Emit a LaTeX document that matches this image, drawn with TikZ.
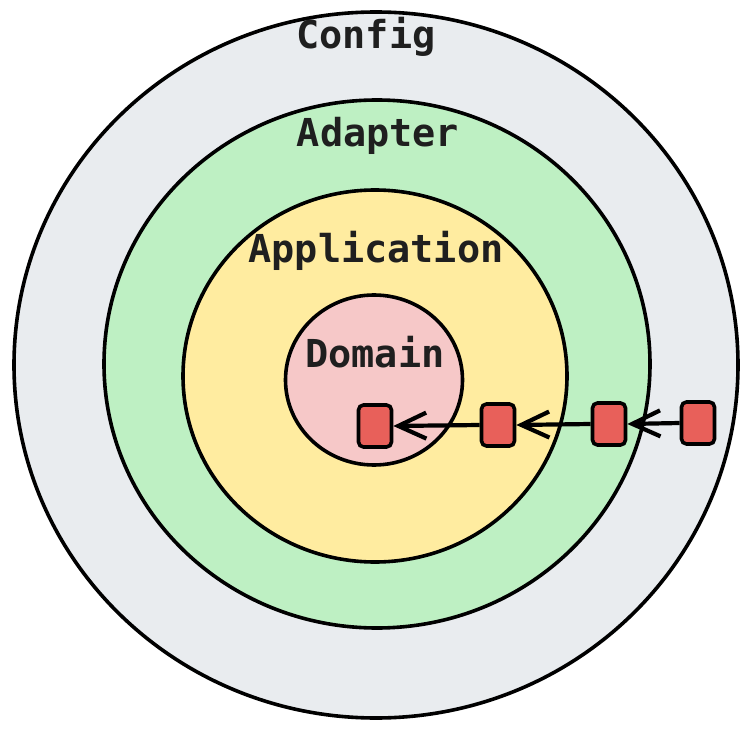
\documentclass[tikz,border=0pt]{standalone}
\usepackage{fontspec}
\setmonofont{DejaVu Sans Mono}
\usetikzlibrary{shapes.geometric,arrows.meta}
\definecolor{cfggray}{RGB}{233,236,239}
\definecolor{adpgreen}{RGB}{190,240,195}
\definecolor{appyellow}{RGB}{255,236,160}
\definecolor{dompink}{RGB}{246,200,200}
\definecolor{portred}{RGB}{232,96,90}
\begin{document}
\begin{tikzpicture}[
    x=1pt, y=-1pt,
    ring/.style={
      ellipse,
      draw=black,
      line width=3.6pt,
      inner sep=0pt
    },
    layername/.style={
      font=\fontsize{38.5}{38.5}\selectfont\ttfamily\bfseries,
      text=black!88,
      anchor=base,
      inner sep=0pt
    },
    port/.style={
      draw=black,
      fill=portred,
      line width=3.6pt,
      rounded corners=5pt,
      minimum width=33pt,
      minimum height=42pt,
      inner sep=0pt
    },
    dep/.style={
      line width=4.2pt,
      -{Straight Barb[length=28pt,width=26pt]}
    }
  ]
    \useasboundingbox (0,0) rectangle (750,730);
    % layers, outside in
    \node[ring,fill=cfggray,minimum width=724pt,minimum height=706pt] (config) at (376,365) {};
    \node[ring,fill=adpgreen,minimum width=546pt,minimum height=528pt] (adapter) at (377,364) {};
    \node[ring,fill=appyellow,minimum width=384pt,minimum height=372pt] (application) at (375,376) {};
    \node[ring,fill=dompink,minimum width=177pt,minimum height=170pt] (domain) at (374,380) {};
    % names
    \node[layername] (configname) at (366,49) {Config};
    \node[layername] (adaptername) at (378,147) {Adapter};
    \node[layername] (applicationname) at (376,263) {Application};
    \node[layername] (domainname) at (375,367) {Domain};
    % ports and dependencies
    \node[port] (p1) at (375,426) {};
    \node[port] (p2) at (498,425) {};
    \node[port] (p3) at (609,424) {};
    \node[port] (p4) at (698,423) {};
    \draw[dep] (p4.west) -- (p3.east);
    \draw[dep] (p3.west) -- (p2.east);
    \draw[dep] (p2.west) -- (p1.east);
  \end{tikzpicture}
\end{document}
